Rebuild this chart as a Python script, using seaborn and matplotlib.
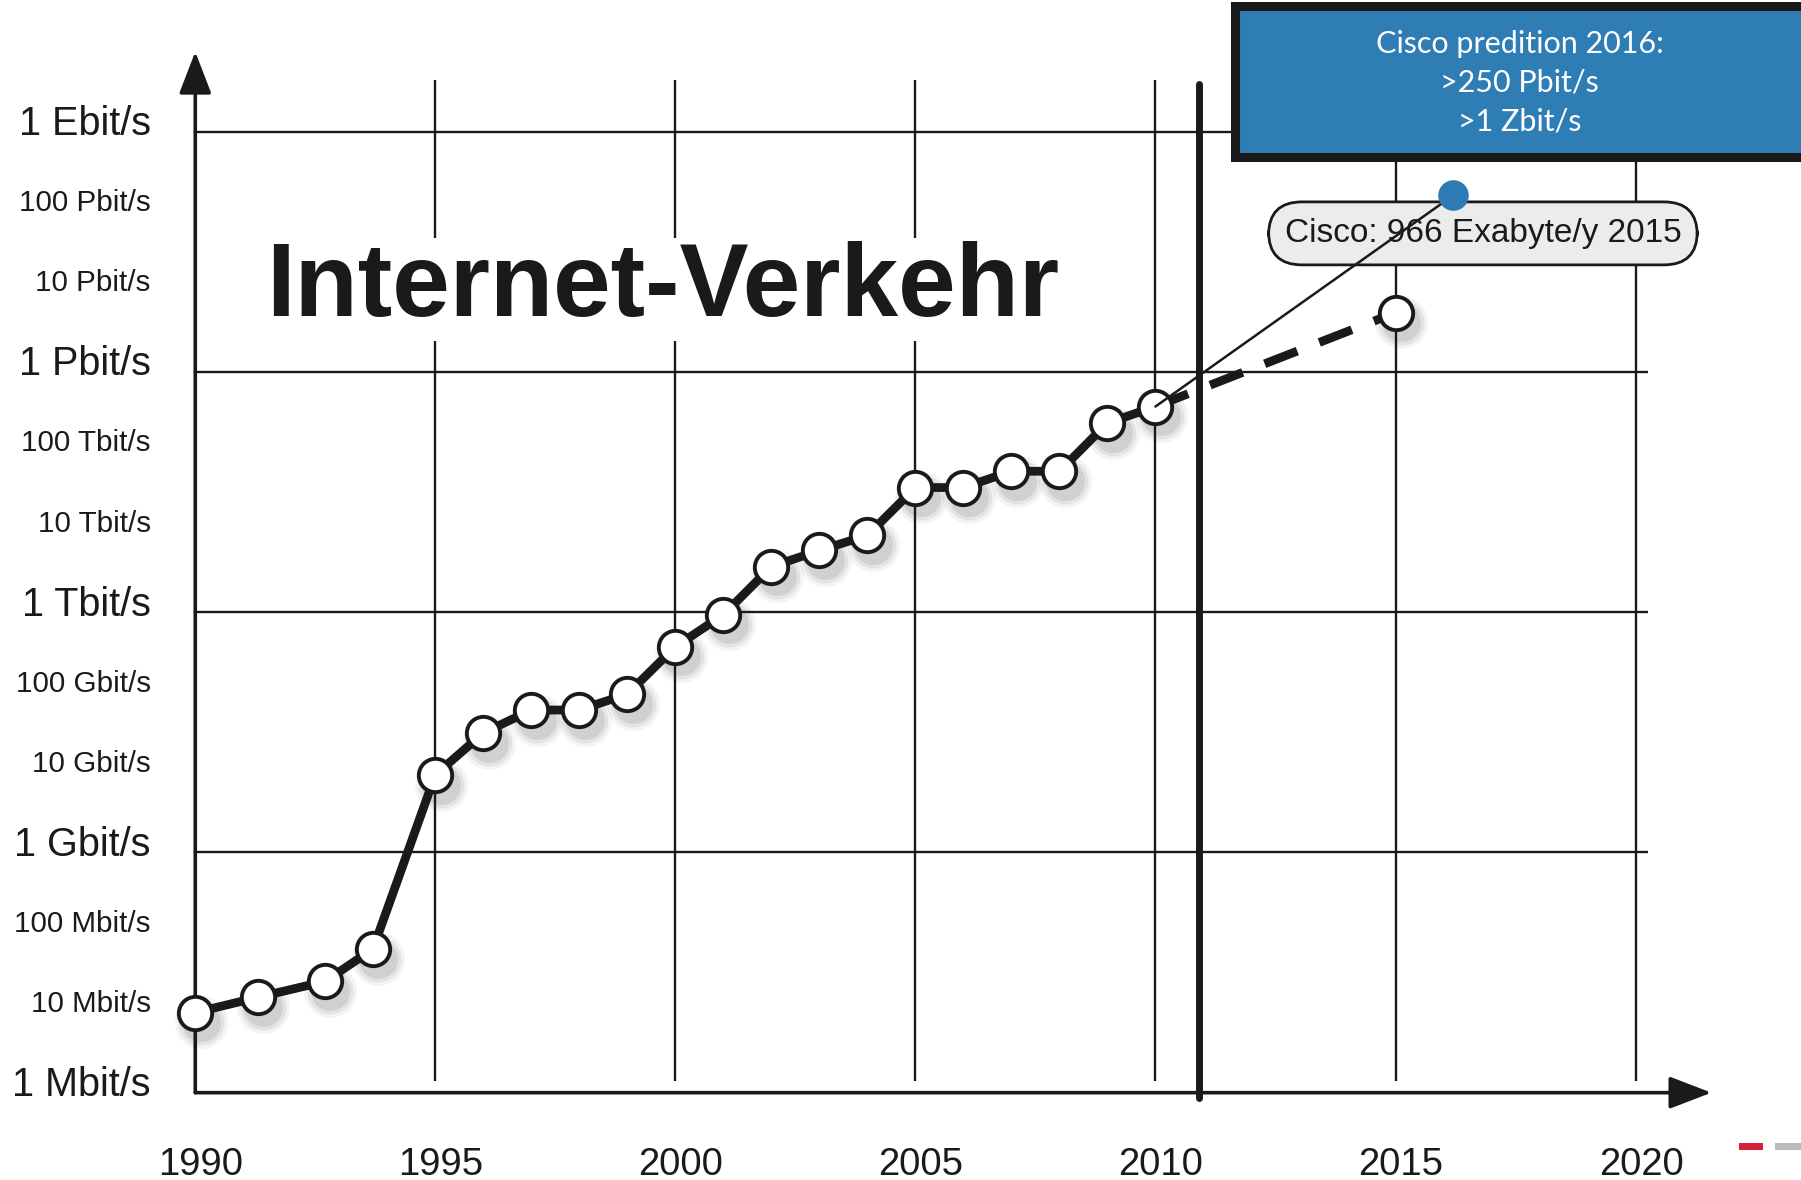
import numpy as np
import pandas as pd
import matplotlib
matplotlib.use("Agg")
import matplotlib.pyplot as plt
from matplotlib.patches import Rectangle
from matplotlib.transforms import ScaledTranslation
import seaborn as sns

# internet traffic, in Mbit/s
years = [1990, 1991.3, 1992.7, 1993.7, 1995, 1996, 1997, 1998, 1999, 2000,
         2001, 2002, 2003, 2004, 2005, 2006, 2007, 2008, 2009, 2010]
traffic = [10, 15.5, 24.5, 62, 9.3e3, 3.1e4, 6.0e4, 6.0e4, 9.5e4, 3.7e5,
           9.3e5, 3.7e6, 5.9e6, 9.1e6, 3.6e7, 3.6e7, 5.75e7, 5.75e7, 2.3e8, 3.7e8]
forecast_years = [2010, 2015]
forecast = [3.7e8, 5.5e9]
cisco_year = [2010, 2016.2]
cisco_value = [3.7e8, 1.6e11]

ytick_vals = [10.0 ** k for k in range(13)]
ytick_labels = ["1 Mbit/s", "10 Mbit/s", "100 Mbit/s", "1 Gbit/s", "10 Gbit/s",
                "100 Gbit/s", "1 Tbit/s", "10 Tbit/s", "100 Tbit/s", "1 Pbit/s",
                "10 Pbit/s", "100 Pbit/s", "1 Ebit/s"]
xtick_vals = [1990, 1995, 2000, 2005, 2010, 2015, 2020]
grid_years = [1995, 2000, 2005, 2010, 2015, 2020]
grid_values = [1e3, 1e6, 1e9, 1e12]
today = 2010.9

df = pd.DataFrame({"year": years, "traffic": traffic})

sns.set_theme(style="white")
plt.rcParams["font.family"] = ["Liberation Sans", "DejaVu Sans"]
plt.rcParams["text.color"] = "k"
plt.rcParams["xtick.color"] = "k"
plt.rcParams["ytick.color"] = "k"

W, H = 1568, 1027  # layout measured on the shrunk picture
fig = plt.figure(figsize=(18.01, 11.80), dpi=100)
ax = fig.add_axes([170 / W, 1 - 951 / H, (1490 - 170) / W, (951 - 45) / H])
ax.set_yscale("log")
ax.set_xlim(1990, 1990 + (1490 - 170) / 41.8)
ax.set_ylim(1, 10 ** ((951 - 45) / 69.7))
for s in ax.spines.values():
    s.set_visible(False)

# grid
ax.vlines(grid_years, 10 ** 0.15, 10 ** 12.65, color="k", lw=1.7, zorder=1)
ax.hlines(grid_values, 1990, 2020.25, color="k", lw=1.7, zorder=1)
now = ax.vlines([today], 10 ** -0.07, 10 ** 12.6, color="k", lw=5, zorder=2,
                clip_on=False)
now.set_capstyle("round")

# axes with arrows
arrow = dict(arrowstyle="-|>,head_length=1.3,head_width=0.5", lw=2.6, color="k",
             shrinkA=0, shrinkB=0, mutation_scale=20)
ax.annotate("", xy=(0, 1), xytext=(0, 0), xycoords="axes fraction",
            arrowprops=arrow, zorder=3)
ax.annotate("", xy=(1, 0), xytext=(0, 0), xycoords="axes fraction",
            arrowprops=arrow, zorder=3)

# soft shadows under the points
pts_x = years + forecast_years[-1:]
pts_y = traffic + forecast[-1:]
shadow = ax.transData + ScaledTranslation(4 / 72, -7 / 72, fig.dpi_scale_trans)
for ms, a in [(38, 0.05), (33, 0.07), (28, 0.09)]:
    ax.plot(pts_x, pts_y, "o", ms=ms, color="k", alpha=a, mew=0,
            transform=shadow, zorder=3, clip_on=False)

# forecast (dashed)
ax.plot(forecast_years, forecast, color="k", lw=6.3, dashes=(4.0, 2.7), zorder=4)

# measured traffic
sns.lineplot(data=df, x="year", y="traffic", ax=ax, color="k", lw=6.3,
             marker="o", markersize=24, markerfacecolor="white",
             markeredgecolor="k", markeredgewidth=2.8, zorder=5, clip_on=False)
ax.plot(forecast_years[-1:], forecast[-1:], "o", ms=24, mfc="white", mec="k",
        mew=2.8, zorder=5)

# cisco annotation
ax.text(2016.82, 10 ** 10.73, "Cisco: 966 Exabyte/y 2015", fontsize=24,
        ha="center", va="center", zorder=6,
        bbox=dict(boxstyle="round,pad=0.48,rounding_size=1.0",
                  facecolor="#ececec", edgecolor="k", lw=2))
ax.plot(cisco_year, cisco_value, color="k", lw=1.8, zorder=7)
ax.plot(cisco_year[-1:], cisco_value[-1:], "o", ms=22, color="#2e7bb4", mew=0,
        zorder=8)

# ticks
ax.set_xticks(xtick_vals)
ax.set_xticklabels([str(v) for v in xtick_vals], fontsize=27.5)
ax.set_yticks(ytick_vals)
ax.set_yticklabels(ytick_labels)
ax.yaxis.set_minor_locator(matplotlib.ticker.NullLocator())
ax.set_xlabel("")
ax.set_ylabel("")
ax.tick_params(axis="x", length=0, pad=39, colors="k")
ax.tick_params(axis="y", length=0, pad=32, colors="k")
up = ScaledTranslation(0, 8.3 / 72, fig.dpi_scale_trans)
for i, lab in enumerate(ax.get_yticklabels()):
    lab.set_fontsize(28.5 if i % 3 == 0 else 21.3)
    lab.set_transform(lab.get_transform() + up)
right = ScaledTranslation(4 / 72, 0, fig.dpi_scale_trans)
for lab in ax.get_xticklabels():
    lab.set_transform(lab.get_transform() + right)
ax.grid(False)

# title
fig.text(232 / W, 1 - 275 / H, "Internet-Verkehr", fontsize=74.5, fontweight="bold",
         ha="left", va="baseline", zorder=3,
         bbox=dict(facecolor="white", edgecolor="none", pad=2))

# prediction box
box = Rectangle((1075 / W, 1 - 137 / H), 0.5, 132 / H, transform=fig.transFigure,
                facecolor="#2f7db5", edgecolor="k", lw=6.5, zorder=10, clip_on=False)
fig.add_artist(box)
fig.text(1323 / W, 1 - 72 / H, "Cisco predition 2016:\n>250 Pbit/s\n>1 Zbit/s",
         family=["Lato", "DejaVu Sans"], fontsize=22, color="white", ha="center",
         va="center", linespacing=1.46, zorder=11)

# logo remnant bottom right
fig.add_artist(Rectangle((1514 / W, 1 - 1001 / H), 21 / W, 6 / H,
                         transform=fig.transFigure, facecolor="#d0223a", lw=0))
fig.add_artist(Rectangle((1545 / W, 1 - 1001 / H), 23 / W, 6 / H,
                         transform=fig.transFigure, facecolor="#bbbbbb", lw=0))

fig.savefig("out.png", dpi=100)
